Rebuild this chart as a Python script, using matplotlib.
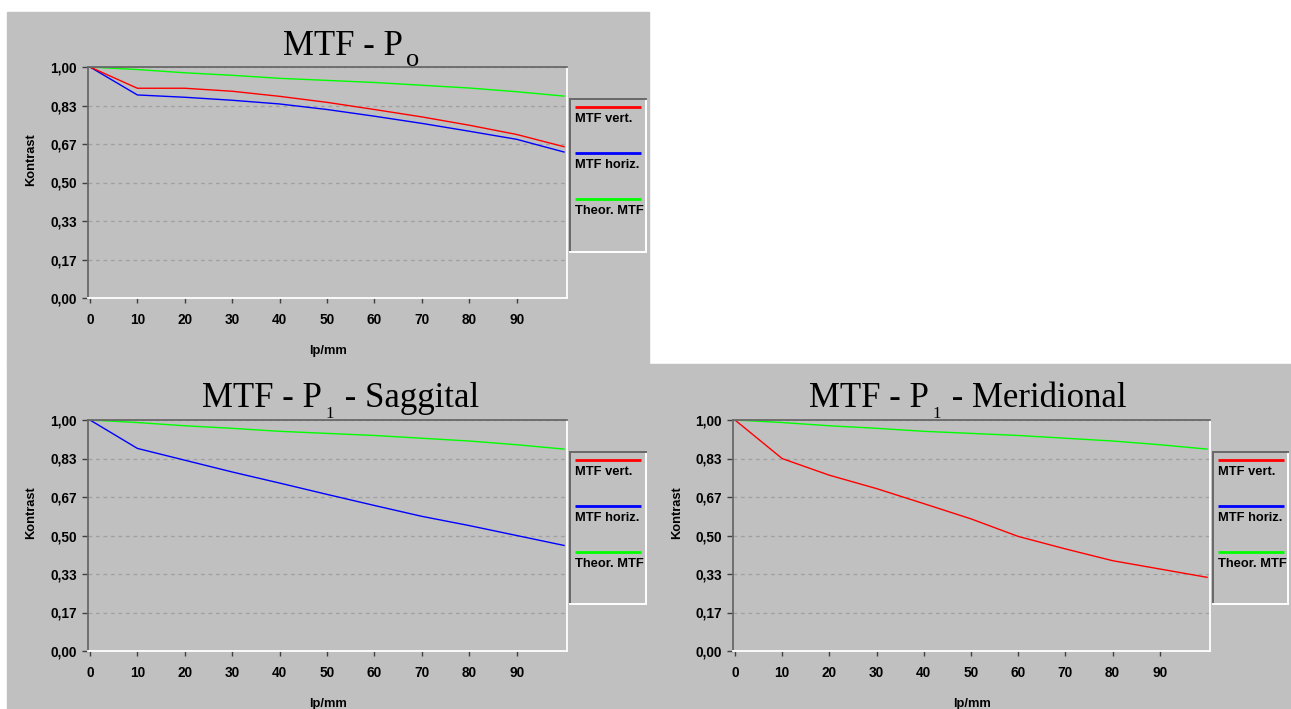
import matplotlib
matplotlib.use('Agg')
import matplotlib.pyplot as plt
from matplotlib.patches import Rectangle

# canvas size in pixels (dpi 100)
W, H = 1291, 709

# spatial frequency (lp/mm)
lpmm = [0, 10, 20, 30, 40, 50, 60, 70, 80, 90, 100]

# contrast values
theor_mtf = [1.000, 0.989, 0.975, 0.964, 0.951, 0.942, 0.933, 0.921, 0.909, 0.893, 0.874]
p0_vert = [1.000, 0.908, 0.908, 0.895, 0.873, 0.847, 0.816, 0.784, 0.748, 0.708, 0.655]
p0_horiz = [1.000, 0.879, 0.869, 0.856, 0.840, 0.816, 0.787, 0.756, 0.722, 0.687, 0.632]
sag_horiz = [1.000, 0.877, 0.826, 0.775, 0.727, 0.678, 0.630, 0.583, 0.543, 0.500, 0.457]
mer_vert = [1.000, 0.833, 0.761, 0.703, 0.638, 0.572, 0.496, 0.442, 0.391, 0.355, 0.319]

y_ticks = [0, 1/6, 2/6, 3/6, 4/6, 5/6, 1]
y_tick_labels = ['0,00', '0,17', '0,33', '0,50', '0,67', '0,83', '1,00']
x_ticks = [0, 10, 20, 30, 40, 50, 60, 70, 80, 90]

legend_labels = ['MTF vert.', 'MTF horiz.', 'Theor. MTF']
legend_colors = ['#ff0000', '#0000ff', '#00ff00']

GRAY = '#c0c0c0'
DARK = '#686868'
SANS = 'Liberation Sans'
SERIF = 'Liberation Serif'
FS = 9.8


def fig_rect(l, t, r, b):
    return [l / W, 1 - b / H, (r - l) / W, (b - t) / H]


def draw_title(fig, renderer, x0, base, pieces):
    x = x0
    for txt, size, drop, gap in pieces:
        t = fig.text(x / W, 1 - (base + drop) / H, txt, fontsize=size,
                     family=SERIF, ha='left', va='baseline', color='black')
        x += t.get_window_extent(renderer).width + gap


def draw_legend(fig, box):
    la = fig.add_axes(fig_rect(*box))
    wpx = box[2] - box[0]
    hpx = box[3] - box[1]
    la.set_facecolor(GRAY)
    la.set_xlim(0, wpx)
    la.set_ylim(hpx, 0)
    la.set_xticks([])
    la.set_yticks([])
    for side, col in [('left', DARK), ('top', DARK), ('right', 'white'), ('bottom', 'white')]:
        la.spines[side].set_color(col)
        la.spines[side].set_linewidth(1.4)
    for i, (lab, col) in enumerate(zip(legend_labels, legend_colors)):
        y = 8 + 46 * i
        la.plot([5, 71], [y, y], color=col, lw=2.0, solid_capstyle='butt')
        la.text(5, y + 12, lab, fontsize=9.3, fontweight='bold', family=SANS,
                va='center', ha='left', clip_on=False)


def draw_panel(fig, rect_px, series):
    ax = fig.add_axes(fig_rect(*rect_px))
    ax.set_facecolor(GRAY)
    for vals, col in series:
        ax.plot(lpmm, vals, color=col, lw=1.0)
    ax.set_xlim(-0.42, 100.63)
    ax.set_ylim(0, 1.0)
    ax.set_yticks(y_ticks)
    ax.set_yticklabels(y_tick_labels)
    ax.set_xticks(x_ticks)
    ax.set_xticklabels([str(v) for v in x_ticks])
    for lab in ax.get_xticklabels() + ax.get_yticklabels():
        lab.set_fontweight('bold')
        lab.set_family(SANS)
        lab.set_fontsize(FS)
    ax.tick_params(axis='y', direction='out', length=4.5, width=1, color='#404040', pad=3.5)
    ax.tick_params(axis='x', direction='out', length=3.5, width=1, color='#404040', pad=7)
    ax.yaxis.grid(True, linestyle=(0, (3, 3)), color='#a0a0a0', lw=0.9)
    ax.set_axisbelow(True)
    for side, col in [('left', DARK), ('top', DARK), ('right', 'white'), ('bottom', 'white')]:
        ax.spines[side].set_color(col)
        ax.spines[side].set_linewidth(1.3)
    ax.set_ylabel('Kontrast', fontsize=9.3, fontweight='bold', family=SANS)
    ax.yaxis.label.set_va('center')
    ax.yaxis.set_label_coords(-0.118, 0.6)
    ax.set_xlabel('lp/mm', fontsize=9.3, fontweight='bold', family=SANS)
    ax.xaxis.label.set_va('center')
    ax.xaxis.set_label_coords(0.501, -0.229)
    return ax


fig = plt.figure(figsize=(W / 100, H / 100), dpi=100, facecolor='white')

# gray panel backgrounds (behind the axes)
fig.patches.append(Rectangle((7 / W, 1 - 365 / H), (649 - 7) / W, (365 - 12) / H,
                             transform=fig.transFigure, color=GRAY, zorder=-5))
fig.patches.append(Rectangle((7 / W, 0), (W - 7) / W, (709 - 364) / H,
                             transform=fig.transFigure, color=GRAY, zorder=-5))

renderer = fig.canvas.get_renderer()

# MTF - Po
draw_panel(fig, (88, 67, 567, 298),
           [(theor_mtf, legend_colors[2]), (p0_horiz, legend_colors[1]), (p0_vert, legend_colors[0])])
draw_legend(fig, (570, 99, 646, 252))
draw_title(fig, renderer, 283, 55, [('MTF - P', 25, 0, 3), ('o', 19, 11, 0)])

# MTF - P1 - Saggital
draw_panel(fig, (88, 420, 567, 651),
           [(theor_mtf, legend_colors[2]), (sag_horiz, legend_colors[1])])
draw_legend(fig, (570, 452, 646, 604))
draw_title(fig, renderer, 202, 407, [('MTF - P', 25, 0, 4), ('1', 12, 11, 2), (' - Saggital', 25, 0, 1)])

# MTF - P1 - Meridional
draw_panel(fig, (733, 420, 1210, 651),
           [(theor_mtf, legend_colors[2]), (mer_vert, legend_colors[0])])
draw_legend(fig, (1213, 452, 1288, 604))
draw_title(fig, renderer, 809, 407, [('MTF - P', 25, 0, 4), ('1', 12, 11, 2), (' - Meridional', 25, 0, 1)])

fig.savefig('out.png', dpi=100, facecolor='white')
